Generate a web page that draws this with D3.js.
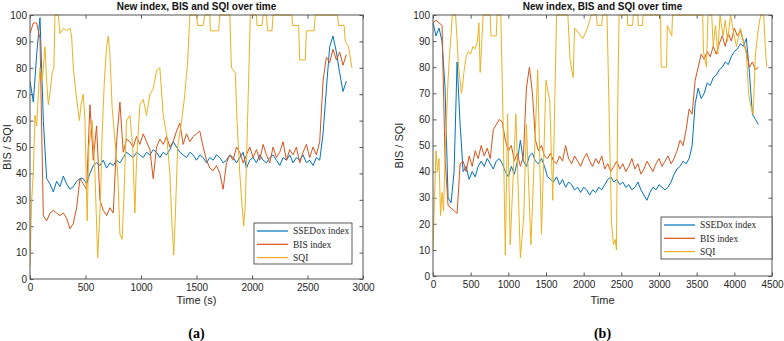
<!DOCTYPE html>
<html>
<head>
<meta charset="utf-8">
<script src="https://cdn.jsdelivr.net/npm/d3@7"></script>
<style>
body { margin: 0; background: #fff; }
svg { display: block; font-family: "Liberation Sans", Arial, sans-serif; }
.tick text { font-size: 10px; fill: #262626; }
.domain { display: none; }
.tick line { stroke: #555; }
.title { font-size: 10px; font-weight: bold; fill: #111; }
.label { font-size: 11px; fill: #262626; }
.caption { font-family: "Liberation Serif", "Times New Roman", serif; font-size: 14px; font-weight: bold; fill: #000; }
.legend text { font-family: "Liberation Serif", "Times New Roman", serif; font-size: 9.5px; fill: #262626; }
</style>
</head>
<body>
<div id="chart"></div>
<script>
// ---- data (a): sampled every 30 s
var stepA = 30;
var ssedoxA = [75,67,85,99,60,38,36,33,37,35,
  39,36,34,35,37,38,38,36,40,43,
  44,43,45,42,44,43,45,44,46,48,
  47,46,48,47,46,48,47,49,48,46,
  48,47,49,52,50,48,47,46,48,47,
  45,47,46,44,46,45,47,46,44,45,
  47,46,44,46,48,42,45,46,44,47,
  45,44,46,47,45,43,46,45,47,44,
  46,45,47,44,45,43,46,45,55,72,
  88,92,86,78,71,75];
var bisA = [93,97,97,91,24,22,25,26,25,24,
  25,23,19,21,27,38,36,34,66,45,
  58,30,26,24,27,25,52,67,48,53,
  52,50,54,51,55,52,49,38,50,53,
  51,54,50,52,56,59,51,55,52,54,
  55,56,50,45,42,41,43,40,34,44,
  47,45,50,48,44,47,50,46,49,45,
  51,47,44,50,46,48,52,45,49,47,
  50,44,48,51,46,50,47,52,75,84,
  82,87,83,86,81,85];
// SQI (a): [time, value]
var sqiA = [[0,5],[15,30],[30,40],[45,62],[60,58],[75,70],[90,80],[110,75],[135,88],[150,75],
  [165,66],[185,72],[200,78],[215,80],[225,100],[255,100],[270,93],[300,95],[330,94],[360,95],
  [375,92],[390,80],[410,72],[430,65],[445,60],[460,66],[480,70],[495,60],[515,22],[530,50],
  [560,60],[585,40],[610,8],[635,30],[650,55],[670,75],[690,88],[705,92],[720,85],[740,65],
  [760,55],[790,40],[810,17],[830,15],[845,30],[870,60],[900,62],[925,50],[945,25],[960,45],
  [990,66],[1020,68],[1050,62],[1080,70],[1110,72],[1140,79],[1170,80],[1200,62],[1230,55],[1260,40],
  [1280,20],[1295,9],[1310,25],[1330,50],[1360,58],[1390,68],[1420,82],[1440,100],[1500,100],[1510,96],
  [1560,96],[1575,100],[1620,100],[1625,94],[1700,94],[1710,100],[1800,100],[1815,80],[1850,78],[1865,60],
  [1890,40],[1910,28],[1925,20],[1940,28],[1960,60],[1985,100],[2040,100],[2045,96],[2090,96],[2100,100],
  [2130,100],[2140,94],[2180,94],[2190,100],[2360,100],[2365,96],[2420,96],[2430,83],[2480,83],[2490,94],
  [2560,94],[2570,100],[2770,100],[2780,96],[2830,96],[2840,90],[2870,88],[2900,80]];

// ---- data (b): sampled every 40 s
var stepB = 40;
var ssedoxB = [97,92,95,90,72,30,28,40,82,58,
  40,42,37,40,38,42,44,42,45,43,
  41,44,45,43,40,38,42,39,44,52,
  44,42,46,47,44,43,45,42,38,37,
  36,38,35,37,34,36,35,33,34,32,
  34,33,31,33,32,34,33,35,37,38,
  36,37,35,36,34,35,33,34,36,33,
  31,29,32,34,33,35,34,33,34,36,
  39,41,42,44,43,45,50,66,72,68,
  70,74,73,76,77,79,80,82,81,84,
  86,87,89,88,91,78,62,60,58];
var bisB = [97,98,97,96,45,27,26,25,24,43,
  44,40,46,42,48,45,50,46,49,45,
  56,58,60,59,52,48,50,44,47,42,
  46,72,80,70,52,48,50,46,45,47,
  44,43,46,44,50,45,43,46,44,42,
  45,47,44,42,45,43,46,41,43,40,
  42,44,41,43,40,42,45,41,43,39,
  41,44,42,40,43,45,42,44,46,43,
  45,48,52,50,56,64,62,75,80,85,
  83,86,84,88,85,89,92,88,93,90,
  95,92,94,90,86,80,82,79,80];
var sqiB = [[0,10],[20,30],[40,48],[60,40],[80,45],[100,23],[120,32],[140,25],[160,45],[180,60],
  [200,75],[220,85],[240,92],[255,100],[300,100],[320,90],[340,80],[360,75],[375,70],[390,72],
  [410,78],[440,84],[470,86],[500,85],[530,88],[560,87],[590,90],[610,97],[626,78],[645,88],
  [665,100],[760,100],[770,92],[840,92],[850,100],[900,100],[930,60],[960,8],[990,62],[1025,12],
  [1100,62],[1160,7],[1205,23],[1240,58],[1300,12],[1390,79],[1440,16],[1500,75],[1550,67],[1590,29],
  [1640,100],[1790,100],[1820,83],[1860,76],[1880,95],[1990,91],[2050,95],[2100,100],[2170,100],[2180,96],
  [2240,96],[2250,100],[2310,100],[2340,60],[2370,20],[2395,12],[2420,14],[2435,10],[2450,60],[2470,100],
  [2580,100],[2585,96],[2650,96],[2660,100],[2720,100],[2725,96],[2780,96],[2790,100],[3020,100],[3030,80],
  [3100,80],[3110,96],[3170,92],[3180,100],[3580,100],[3590,86],[3630,80],[3650,100],[3700,100],[3720,88],
  [3750,96],[3780,85],[3810,100],[3850,92],[3880,98],[3910,90],[3950,100],[3990,93],[4030,88],[4080,95],
  [4120,90],[4160,85],[4190,70],[4220,65],[4250,62],[4280,85],[4320,95],[4350,100],[4390,100],[4410,88],
  [4430,80]];

var seriesNames = ["SSEDox index", "BIS index", "SQI"];
var seriesColors = ["#0072BD", "#D95319", "#EDB120"];
var yTicks = [0,10,20,30,40,50,60,70,80,90,100];

var svg = d3.select("#chart")
  .append("svg")
    .attr("width", 784)
    .attr("height", 341);

function toPairs(values, step) {
  return values.map(function(v, i) { return [i * step, v]; });
}

function drawPanel(p) {
  var width = p.right - p.left,
      height = p.bottom - p.top;

  var g = svg.append("g")
    .attr("transform", "translate(" + p.left + "," + p.top + ")");

  var x = d3.scaleLinear().domain([0, p.xMax]).range([0, width]);
  var y = d3.scaleLinear().domain([0, 100]).range([height, 0]);

  g.append("clipPath").attr("id", p.id + "clip")
    .append("rect").attr("width", width).attr("height", height + 1).attr("y", -1);

  // axes, matlab style: ticks inside, box all round
  g.append("g")
    .attr("transform", "translate(0," + height + ")")
    .call(d3.axisBottom(x).tickValues(p.xTicks).tickSize(-3.5).tickPadding(5).tickFormat(d3.format("d")));
  g.append("g")
    .call(d3.axisTop(x).tickValues(p.xTicks).tickSize(-3.5).tickFormat(""));
  g.append("g")
    .call(d3.axisLeft(y).tickValues(yTicks).tickSize(-3.5).tickPadding(3));
  g.append("g")
    .attr("transform", "translate(" + width + ",0)")
    .call(d3.axisRight(y).tickValues(yTicks).tickSize(-3.5).tickFormat(""));

  var line = d3.line()
    .x(function(d) { return x(d[0]); })
    .y(function(d) { return y(d[1]); });

  var lines = g.append("g").attr("clip-path", "url(#" + p.id + "clip)");
  p.series.forEach(function(s, i) {
    lines.append("path")
      .datum(s)
      .attr("fill", "none")
      .attr("stroke", seriesColors[i])
      .attr("stroke-width", 1)
      .attr("stroke-linejoin", "round")
      .attr("d", line);
  });

  g.append("rect")
    .attr("width", width)
    .attr("height", height)
    .attr("fill", "none")
    .attr("stroke", "#555")
    .attr("stroke-width", 1);

  // legend
  var lg = svg.append("g").classed("legend", true)
    .attr("transform", "translate(" + p.legend[0] + "," + p.legend[1] + ")");
  lg.append("rect")
    .attr("width", p.legend[2])
    .attr("height", p.legend[3])
    .attr("fill", "#fff")
    .attr("stroke", "#333")
    .attr("stroke-width", 0.8);
  seriesNames.forEach(function(n, i) {
    var ly = 8 + i * 13.3;
    lg.append("line")
      .attr("x1", 3).attr("x2", 34)
      .attr("y1", ly).attr("y2", ly)
      .attr("stroke", seriesColors[i])
      .attr("stroke-width", 1.2);
    lg.append("text")
      .attr("x", 39)
      .attr("y", ly + 3.3)
      .text(n);
  });

  // labels
  svg.append("text")
    .text("New index, BIS and SQI over time")
    .classed("title", true)
    .attr("text-anchor", "middle")
    .attr("x", p.left + width / 2)
    .attr("y", 10);

  svg.append("text")
    .text(p.xLabel)
    .classed("label", true)
    .attr("text-anchor", "middle")
    .attr("x", p.left + width / 2)
    .attr("y", 304);

  svg.append("g")
    .attr("transform", "translate(" + p.yLabelX + "," + (p.top + height / 2) + ")")
    .append("text")
    .text("BIS / SQI")
    .classed("label", true)
    .attr("text-anchor", "middle")
    .attr("transform", "rotate(-90)");

  svg.append("text")
    .text(p.caption)
    .classed("caption", true)
    .attr("text-anchor", "middle")
    .attr("x", p.left + width / 2)
    .attr("y", 338);
}

drawPanel({
  id: "a", left: 30, right: 363, top: 15, bottom: 279,
  xMax: 3000, xTicks: [0,500,1000,1500,2000,2500,3000],
  xLabel: "Time (s)", caption: "(a)", yLabelX: 11,
  legend: [254, 223, 98, 41],
  series: [toPairs(ssedoxA, stepA), toPairs(bisA, stepA), sqiA]
});

drawPanel({
  id: "b", left: 433, right: 772, top: 15, bottom: 276,
  xMax: 4500, xTicks: [0,500,1000,1500,2000,2500,3000,3500,4000,4500],
  xLabel: "Time", caption: "(b)", yLabelX: 403,
  legend: [661, 217, 111, 42],
  series: [toPairs(ssedoxB, stepB), toPairs(bisB, stepB), sqiB]
});
</script>
</body>
</html>
